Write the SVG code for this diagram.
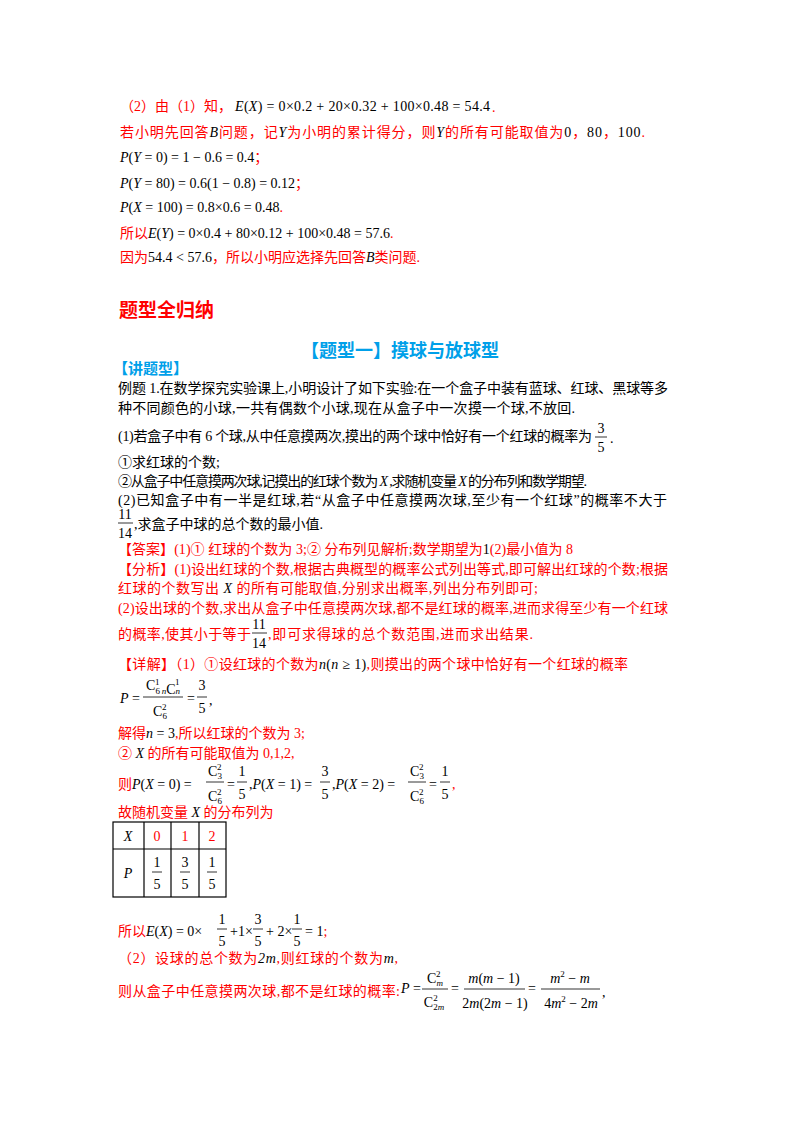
<svg xmlns="http://www.w3.org/2000/svg" width="800" height="1132" viewBox="0 0 800 1132">
<style>
text{font-family:"Liberation Serif","Noto Sans CJK SC",serif;font-size:14px;fill:#000}
.r{fill:#ff0000}
.k{fill:#000}
.i{font-style:italic}
.b{fill:#00a0e9;font-family:"Noto Sans CJK SC",sans-serif;font-weight:bold}
.t{font-size:9px}
line{stroke:#000;stroke-width:0.8}
</style>
<rect width="800" height="1132" fill="#fff"/>
<g id="part2">
<text x="120" y="111" class="r">（2）由（1）知，</text>
<text x="235" y="111" textLength="255"><tspan class="i">E</tspan>(<tspan class="i">X</tspan>) = 0×0.2 + 20×0.32 + 100×0.48 = 54.4</text><text x="492" y="112" class="r">.</text>
<text x="120" y="137" class="r" textLength="525">若小明先回答<tspan class="k i">B</tspan>问题，记<tspan class="k i">Y</tspan>为小明的累计得分，则<tspan class="k i">Y</tspan>的所有可能取值为<tspan class="k">0</tspan>，<tspan class="k">80</tspan>，<tspan class="k">100</tspan>.</text>
<text x="120" y="162"><tspan class="i">P</tspan>(<tspan class="i">Y</tspan> = 0) = 1 − 0.6 = 0.4<tspan class="r">；</tspan></text>
<text x="120" y="188"><tspan class="i">P</tspan>(<tspan class="i">Y</tspan> = 80) = 0.6(1 − 0.8) = 0.12<tspan class="r">；</tspan></text>
<text x="120" y="212"><tspan class="i">P</tspan>(<tspan class="i">X</tspan> = 100) = 0.8×0.6 = 0.48<tspan class="r">.</tspan></text>
<text x="120" y="238" class="r">所以<tspan class="k i">E</tspan><tspan class="k">(</tspan><tspan class="k i">Y</tspan><tspan class="k">) = 0×0.4 + 80×0.12 + 100×0.48 = 57.6</tspan>.</text>
<text x="120" y="262" class="r">因为<tspan class="k">54.4 &lt; 57.6</tspan>，所以小明应选择先回答<tspan class="k i">B</tspan>类问题.</text>
</g>
<g id="headings">
<text x="119" y="317" style="font-family:'Noto Sans CJK SC',sans-serif;font-weight:bold;font-size:19px;fill:#ff0000">题型全归纳</text>
<text x="400" y="357" text-anchor="middle" class="b" style="font-size:18px">【题型一】摸球与放球型</text>
<text x="113" y="374" class="b" style="font-size:15px">【讲题型】</text>
</g>
<g id="problem">
<text x="118" y="393" textLength="550">例题 1.在数学探究实验课上,小明设计了如下实验:在一个盒子中装有蓝球、红球、黑球等多</text>
<text x="118" y="413" textLength="457">种不同颜色的小球,一共有偶数个小球,现在从盒子中一次摸一个球,不放回.</text>
<text x="118" y="441" textLength="474">(1)若盒子中有 6 个球,从中任意摸两次,摸出的两个球中恰好有一个红球的概率为</text>
<text x="601" y="433" text-anchor="middle">3</text><line x1="595" y1="437" x2="607" y2="437"/><text x="601" y="452" text-anchor="middle">5</text><text x="610" y="443">.</text>
<text x="118" y="467">①求红球的个数;</text>
<text x="118" y="486" textLength="469">②从盒子中任意摸两次球,记摸出的红球个数为 <tspan class="i">X</tspan> ,求随机变量 <tspan class="i">X</tspan> 的分布列和数学期望.</text>
<text x="118" y="505" textLength="549">(2)已知盒子中有一半是红球,若“从盒子中任意摸两次球,至少有一个红球”的概率不大于</text>
<text x="125" y="519" text-anchor="middle">11</text><line x1="118" y1="523" x2="133" y2="523"/><text x="125" y="538" text-anchor="middle">14</text>
<text x="134" y="529">,求盒子中球的总个数的最小值.</text>
</g>
<g id="answer">
<text x="118" y="554" class="r" textLength="455">【答案】(1)① 红球的个数为 3;② 分布列见解析;数学期望为<tspan class="k">1</tspan>(2)最小值为 8</text>
<text x="118" y="574" class="r" textLength="550">【分析】(1)设出红球的个数,根据古典概型的概率公式列出等式,即可解出红球的个数;根据</text>
<text x="118" y="593" class="r" textLength="420">红球的个数写出 <tspan class="k i">X</tspan> 的所有可能取值,分别求出概率,列出分布列即可;</text>
<text x="118" y="613" class="r" textLength="550">(2)设出球的个数,求出从盒子中任意摸两次球,都不是红球的概率,进而求得至少有一个红球</text>
<text x="118" y="639" class="r" textLength="133">的概率,使其小于等于</text>
<text x="259" y="629" text-anchor="middle">11</text><line x1="252" y1="633" x2="267" y2="633"/><text x="259" y="648" text-anchor="middle">14</text>
<text x="268" y="639" class="r" textLength="265">,即可求得球的总个数范围,进而求出结果.</text>
</g>
<g id="solution">
<text x="118" y="669" class="r" textLength="510">【详解】（1）①设红球的个数为<tspan class="k i">n</tspan><tspan class="k">(</tspan><tspan class="k i">n</tspan><tspan class="k"> ≥ 1)</tspan>,则摸出的两个球中恰好有一个红球的概率</text>
<text x="120" y="703"><tspan class="i">P</tspan> =</text>
<text x="163" y="690" text-anchor="middle">C<tspan class="t" dy="4">6</tspan><tspan class="t" dx="-5" dy="-9">1</tspan><tspan class="t i" dy="9"> n</tspan>C<tspan class="t i">n</tspan><tspan class="t" dx="-5" dy="-9">1</tspan></text>
<line x1="143" y1="697" x2="183" y2="697"/>
<text x="160" y="716" text-anchor="middle">C<tspan class="t" dy="3">6</tspan><tspan class="t" dx="-5" dy="-9">2</tspan></text>
<text x="187" y="703">=</text>
<text x="202" y="690" text-anchor="middle">3</text><line x1="197" y1="697" x2="207" y2="697"/><text x="202" y="713" text-anchor="middle">5</text><text x="209" y="705">,</text>
<text x="118" y="738" class="r">解得<tspan class="k i">n</tspan><tspan class="k"> = 3</tspan>,所以红球的个数为 3;</text>
<text x="118" y="758" class="r">② <tspan class="k i">X</tspan> 的所有可能取值为 0,1,2,</text>
<text x="118" y="789" class="r">则<tspan class="k i">P</tspan><tspan class="k">(</tspan><tspan class="k i">X</tspan><tspan class="k"> = 0) =</tspan></text>
<text x="215" y="776" text-anchor="middle">C<tspan class="t" dy="3">3</tspan><tspan class="t" dx="-5" dy="-9">2</tspan></text><line x1="206" y1="782" x2="224" y2="782"/><text x="215" y="801" text-anchor="middle">C<tspan class="t" dy="3">6</tspan><tspan class="t" dx="-5" dy="-9">2</tspan></text>
<text x="227" y="789">=</text>
<text x="242" y="776" text-anchor="middle">1</text><line x1="237" y1="782" x2="247" y2="782"/><text x="242" y="799" text-anchor="middle">5</text>
<text x="249" y="789">,<tspan class="i">P</tspan>(<tspan class="i">X</tspan> = 1) =</text>
<text x="325" y="776" text-anchor="middle">3</text><line x1="320" y1="782" x2="330" y2="782"/><text x="325" y="799" text-anchor="middle">5</text>
<text x="332" y="789">,<tspan class="i">P</tspan>(<tspan class="i">X</tspan> = 2) =</text>
<text x="417" y="776" text-anchor="middle">C<tspan class="t" dy="3">3</tspan><tspan class="t" dx="-5" dy="-9">2</tspan></text><line x1="408" y1="782" x2="426" y2="782"/><text x="417" y="801" text-anchor="middle">C<tspan class="t" dy="3">6</tspan><tspan class="t" dx="-5" dy="-9">2</tspan></text>
<text x="429" y="789">=</text>
<text x="445" y="776" text-anchor="middle">1</text><line x1="440" y1="782" x2="450" y2="782"/><text x="445" y="799" text-anchor="middle">5</text><text x="452" y="789" class="r">,</text>
<text x="118" y="817" class="r">故随机变量 <tspan class="k i">X</tspan> 的分布列为</text>
</g>
<g id="table">
<rect x="113" y="822" width="113" height="75" fill="none" stroke="#000" stroke-width="1.2"/>
<line x1="113" y1="849" x2="226" y2="849" style="stroke-width:1.2"/>
<line x1="144" y1="822" x2="144" y2="897" style="stroke-width:1.2"/>
<line x1="171" y1="822" x2="171" y2="897" style="stroke-width:1.2"/>
<line x1="199" y1="822" x2="199" y2="897" style="stroke-width:1.2"/>
<text x="128" y="841" text-anchor="middle" class="i">X</text>
<text x="157" y="841" text-anchor="middle" class="r">0</text>
<text x="185" y="841" text-anchor="middle" class="r">1</text>
<text x="212" y="841" text-anchor="middle" class="r">2</text>
<text x="128" y="878" text-anchor="middle" class="i">P</text>
<text x="157" y="867" text-anchor="middle">1</text><line x1="152" y1="872" x2="162" y2="872"/><text x="157" y="889" text-anchor="middle">5</text>
<text x="185" y="867" text-anchor="middle">3</text><line x1="180" y1="872" x2="190" y2="872"/><text x="185" y="889" text-anchor="middle">5</text>
<text x="212" y="867" text-anchor="middle">1</text><line x1="207" y1="872" x2="217" y2="872"/><text x="212" y="889" text-anchor="middle">5</text>
</g>
<g id="part2b">
<text x="118" y="936" class="r">所以<tspan class="k i">E</tspan><tspan class="k">(</tspan><tspan class="k i">X</tspan><tspan class="k">) = 0×</tspan></text>
<text x="222" y="924" text-anchor="middle">1</text><line x1="217" y1="929" x2="227" y2="929"/><text x="222" y="946" text-anchor="middle">5</text>
<text x="230" y="936">+1×</text>
<text x="258" y="924" text-anchor="middle">3</text><line x1="253" y1="929" x2="263" y2="929"/><text x="258" y="946" text-anchor="middle">5</text>
<text x="266" y="936">+ 2×</text>
<text x="297" y="924" text-anchor="middle">1</text><line x1="292" y1="929" x2="302" y2="929"/><text x="297" y="946" text-anchor="middle">5</text>
<text x="305" y="936">= 1<tspan class="r">;</tspan></text>
<text x="118" y="963" class="r" textLength="280">（2）设球的总个数为<tspan class="k i">2m</tspan>,则红球的个数为<tspan class="k i">m</tspan>,</text>
<text x="118" y="996" class="r" textLength="282">则从盒子中任意摸两次球,都不是红球的概率:</text>
<text x="401" y="993"><tspan class="i">P</tspan> =</text>
<text x="435" y="983" text-anchor="middle">C<tspan class="t i" dy="3">m</tspan><tspan class="t" dx="-7" dy="-9">2</tspan></text><line x1="422" y1="989" x2="448" y2="989"/><text x="434" y="1007" text-anchor="middle">C<tspan class="t" dy="3">2<tspan class="i">m</tspan></tspan><tspan class="t" dx="-11" dy="-9">2</tspan></text>
<text x="451" y="993">=</text>
<text x="494" y="983" text-anchor="middle"><tspan class="i">m</tspan>(<tspan class="i">m</tspan> − 1)</text><line x1="464" y1="989" x2="525" y2="989"/><text x="495" y="1008" text-anchor="middle">2<tspan class="i">m</tspan>(2<tspan class="i">m</tspan> − 1)</text>
<text x="528" y="993">=</text>
<text x="570" y="983" text-anchor="middle"><tspan class="i">m</tspan><tspan class="t" dy="-6">2</tspan><tspan dy="6"> − </tspan><tspan class="i">m</tspan></text><line x1="541" y1="989" x2="600" y2="989"/><text x="571" y="1008" text-anchor="middle">4<tspan class="i">m</tspan><tspan class="t" dy="-6">2</tspan><tspan dy="6"> − 2</tspan><tspan class="i">m</tspan></text>
<text x="602" y="997">,</text>
</g>
</svg>
